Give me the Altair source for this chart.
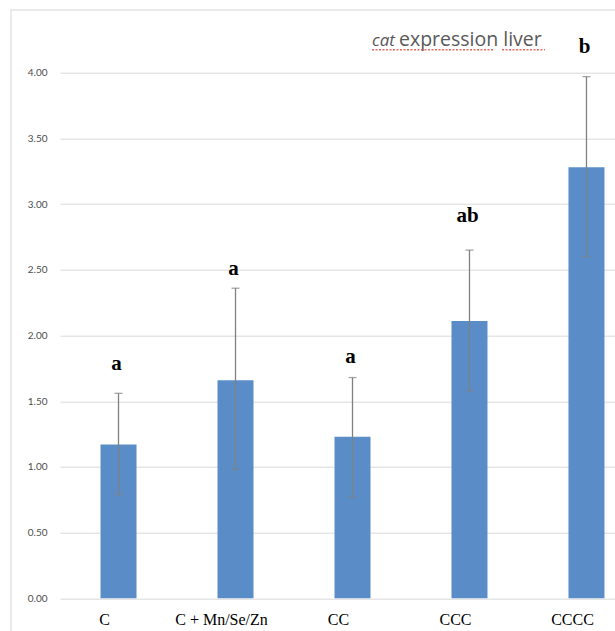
import altair as alt
import pandas as pd

# Relative cat expression in liver, by treatment group
groups = ["C", "C + Mn/Se/Zn", "CC", "CCC", "CCCC"]
means = [1.17, 1.66, 1.23, 2.11, 3.28]
err_hi = [1.56, 2.36, 1.68, 2.65, 3.97]
err_lo = [0.79, 0.98, 0.77, 1.58, 2.60]
letters = ["a", "a", "a", "ab", "b"]
letter_pos = [1.74, 2.46, 1.79, 2.86, 4.15]
y_ticks = [0, 0.5, 1, 1.5, 2, 2.5, 3, 3.5, 4]

df = pd.DataFrame({
    "group": groups,
    "mean": means,
    "hi": err_hi,
    "lo": err_lo,
    "letter": letters,
    "letter_pos": letter_pos,
})

W, H = 555, 525.6
BAR_BLUE = "#5a8dc8"
ERR_GREY = "#808080"

x = alt.X(
    "group:N",
    sort=groups,
    scale=alt.Scale(paddingInner=0.692, paddingOuter=0.218, align=0.794),
    axis=alt.Axis(
        title=None, domain=False, ticks=False, labelAngle=0,
        labelFont="Liberation Serif", labelFontSize=16, labelColor="#000000",
        labelPadding=13, labelOffset=-14,
    ),
)
y = alt.Y(
    "mean:Q",
    scale=alt.Scale(domain=[0, 4], nice=False),
    axis=alt.Axis(
        title=None, values=y_ticks, format=".2f", domain=False, ticks=False,
        labelFont="Lato", labelFontSize=10, labelColor="#4d4d4d",
        labelPadding=13, grid=True, gridColor="#d9d9d9", gridWidth=1,
    ),
)

base = alt.Chart(df)

bars = base.mark_bar(color=BAR_BLUE, size=36).encode(x=x, y=y)

whisker = base.mark_rule(color=ERR_GREY, strokeWidth=1.3).encode(
    x=alt.X("group:N", sort=groups), y="lo:Q", y2="hi:Q"
)
cap_hi = base.mark_tick(color=ERR_GREY, size=8, thickness=1.3).encode(
    x=alt.X("group:N", sort=groups), y="hi:Q"
)
cap_lo = base.mark_tick(color=ERR_GREY, size=8, thickness=1.3).encode(
    x=alt.X("group:N", sort=groups), y="lo:Q"
)

sig = base.mark_text(
    font="Liberation Serif", fontSize=21, fontWeight="bold",
    color="#000000", baseline="alphabetic", dx=-2,
).encode(x=alt.X("group:N", sort=groups), y="letter_pos:Q", text="letter:N")

# frame around the figure
frame_df = pd.DataFrame({"k": [0]})
frame = alt.Chart(frame_df).mark_rect(
    fill=None, stroke="#e3e3e3", strokeWidth=1.5
).encode(
    x=alt.value(-49), x2=alt.value(W + 40),
    y=alt.value(-62.7), y2=alt.value(H + 60),
)

title_italic = alt.Chart(frame_df).mark_text(
    text="cat", font="Open Sans", fontSize=17, fontStyle="italic",
    color="#595959", align="left", baseline="alphabetic",
).encode(x=alt.value(312), y=alt.value(-27))
title_rest = alt.Chart(frame_df).mark_text(
    text="expression liver", font="Open Sans", fontSize=19.5,
    color="#595959", align="left", baseline="alphabetic",
).encode(x=alt.value(339), y=alt.value(-27))

squiggle_a = alt.Chart(frame_df).mark_rule(
    color="#e0443a", strokeWidth=1.4, strokeDash=[2, 1.5], opacity=0.8
).encode(x=alt.value(312), x2=alt.value(433), y=alt.value(-23))
squiggle_b = alt.Chart(frame_df).mark_rule(
    color="#e0443a", strokeWidth=1.4, strokeDash=[2, 1.5], opacity=0.8
).encode(x=alt.value(442), x2=alt.value(485), y=alt.value(-23))

chart = alt.layer(
    frame, bars, whisker, cap_hi, cap_lo, sig,
    title_italic, title_rest, squiggle_a, squiggle_b,
).properties(
    width=W, height=H,
    autosize=alt.AutoSizeParams(type="none"),
    padding={"left": 60, "top": 72.7, "right": 0, "bottom": 32.7},
    background="#ffffff",
).configure_view(stroke=None)

chart.save("out.html", embed_options={"renderer": "svg", "actions": False})
